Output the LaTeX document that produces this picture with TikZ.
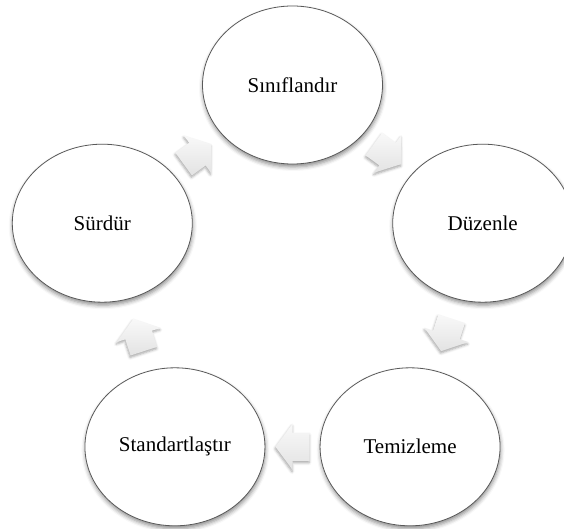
\documentclass[tikz,border=0pt]{standalone}
\usepackage{fontspec}
\setmainfont{Liberation Serif}
\usetikzlibrary{shapes.geometric,shadows.blur,calc}
\tikzset{
  phase/.style={ellipse, draw=black!65, line width=0.8pt, fill=white,
    minimum width=180pt, minimum height=158pt, inner sep=0pt,
    font=\fontsize{21}{25}\selectfont,
    blur shadow={shadow xshift=0.5pt, shadow yshift=-3pt,
      shadow blur radius=4pt, shadow opacity=45}},
  flow/.style={top color=gray!5, bottom color=gray!22, draw=none,
    blur shadow={shadow xshift=-0.5pt, shadow yshift=-2pt,
      shadow blur radius=2.5pt, shadow opacity=35}}
}
% block arrow halfway between two named nodes, pointing at angle #3
\newcommand\cyclearrow[3]{%
  \path[flow, shift={($(#1)!0.5!(#2)$)}, rotate=#3]
    (-17,-14) -- (0,-14) -- (0,-23) -- (17,0) -- (0,23) -- (0,14) -- (-17,14) -- cycle;}
\begin{document}
\begin{tikzpicture}[x=1pt,y=1pt]
  \useasboundingbox (0,0) rectangle (564,528);
  \clip (0,0) rectangle (564,528);
  \coordinate (mid) at (292.5,243);
  \node[phase] (c1) at ($(mid)+(90:200)$)  {Sınıflandır};
  \node[phase] (c2) at ($(mid)+(18:200)$)  {Düzenle};
  \node[phase] (c3) at ($(mid)+(-54:200)$) {Temizleme};
  \node[phase] (c4) at ($(mid)+(-126:200)$){Standartlaştır};
  \node[phase] (c5) at ($(mid)+(162:200)$) {Sürdür};
  \cyclearrow{c1}{c2}{-36}
  \cyclearrow{c2}{c3}{-108}
  \cyclearrow{c3}{c4}{180}
  \cyclearrow{c4}{c5}{108}
  \cyclearrow{c5}{c1}{36}
\end{tikzpicture}
\end{document}
